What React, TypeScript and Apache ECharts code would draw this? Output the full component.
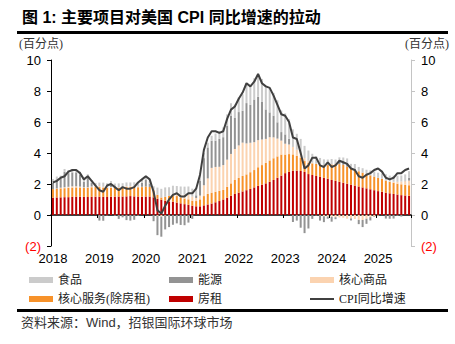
import React, { useEffect, useRef } from "react";
import * as echarts from "echarts";

const years = ["2018", "2019", "2020", "2021", "2022", "2023", "2024", "2025"];
const months: string[] = [];
years.forEach((y) => {
  for (let m = 1; m <= 12; m++) {
    if (y === "2025" && m > 9) break;
    months.push(`${y}-${m < 10 ? "0" + m : m}`);
  }
});

// 房租
const rent = [
  1.12, 1.13, 1.14, 1.15, 1.15, 1.17, 1.18, 1.18, 1.17, 1.16, 1.17, 1.18,
  1.18, 1.17, 1.16, 1.18, 1.18, 1.19, 1.19, 1.2, 1.22, 1.2, 1.19, 1.18,
  1.19, 1.19, 1.14, 1.05, 0.98, 0.92, 0.88, 0.86, 0.8, 0.75, 0.7, 0.66,
  0.6, 0.56, 0.56, 0.62, 0.68, 0.74, 0.82, 0.9, 1.0, 1.12, 1.24, 1.36,
  1.44, 1.52, 1.6, 1.68, 1.78, 1.88, 1.96, 2.04, 2.14, 2.26, 2.4, 2.54,
  2.7, 2.78, 2.86, 2.86, 2.84, 2.78, 2.64, 2.58, 2.52, 2.46, 2.4, 2.34,
  2.26, 2.2, 2.14, 2.08, 2.02, 1.96, 1.9, 1.84, 1.78, 1.72, 1.66, 1.6,
  1.54, 1.5, 1.44, 1.4, 1.36, 1.32, 1.28, 1.26, 1.24,
];
// 核心服务(除房租)
const coreServices = [
  0.55, 0.56, 0.58, 0.58, 0.6, 0.6, 0.6, 0.6, 0.58, 0.6, 0.62, 0.62,
  0.62, 0.6, 0.58, 0.58, 0.56, 0.55, 0.58, 0.6, 0.58, 0.58, 0.6, 0.62,
  0.64, 0.62, 0.45, 0.25, 0.15, 0.25, 0.35, 0.4, 0.42, 0.38, 0.36, 0.35,
  0.32, 0.34, 0.45, 0.6, 0.68, 0.7, 0.68, 0.66, 0.62, 0.7, 0.8, 0.9,
  0.95, 1.0, 1.02, 1.08, 1.12, 1.2, 1.26, 1.32, 1.38, 1.4, 1.38, 1.36,
  1.2, 1.15, 1.05, 0.95, 0.85, 0.7, 0.72, 0.75, 0.78, 0.78, 0.8, 0.88,
  1.0, 1.08, 1.14, 1.16, 1.1, 1.05, 1.02, 0.98, 0.95, 0.92, 0.9, 0.88,
  0.86, 0.84, 0.78, 0.74, 0.72, 0.7, 0.7, 0.68, 0.68,
];
// 核心商品
const coreGoods = [
  0.0, 0.02, 0.04, 0.06, 0.07, 0.08, 0.07, 0.05, 0.03, 0.03, 0.05, 0.06,
  0.06, 0.05, 0.03, 0.05, 0.04, 0.03, 0.04, 0.06, 0.06, 0.05, 0.04, 0.02,
  0.0, 0.0, 0.01, -0.06, -0.1, -0.05, 0.0, 0.08, 0.12, 0.18, 0.26, 0.3,
  0.26, 0.2, 0.24, 0.7, 1.0, 1.6, 1.6, 1.55, 1.6, 1.75, 1.9, 2.0,
  2.1, 2.15, 2.0, 1.9, 1.8, 1.75, 1.65, 1.55, 1.5, 1.35, 1.15, 0.9,
  0.7, 0.62, 0.48, 0.4, 0.32, 0.2, 0.14, 0.04, 0.0, -0.04, -0.08, -0.1,
  -0.12, -0.14, -0.16, -0.18, -0.24, -0.22, -0.26, -0.32, -0.32, -0.24, -0.14, -0.1,
  -0.04, 0.0, -0.02, 0.02, 0.06, 0.12, 0.18, 0.24, 0.3,
];
// 能源
const energy = [
  0.41, 0.58, 0.6, 0.99, 0.88, 0.9, 0.9, 0.77, 0.36, 0.67, 0.23, 0.0,
  -0.36, -0.37, -0.03, 0.13, -0.05, -0.25, -0.15, -0.33, -0.36, -0.31, -0.05, 0.26,
  0.46, 0.21, -0.4, -1.24, -1.3, -0.88, -0.78, -0.63, -0.54, -0.64, -0.66, -0.49,
  -0.25, 0.17, 0.95, 1.75, 2.0, 1.75, 1.7, 1.8, 1.8, 2.2, 2.45, 2.0,
  2.15, 2.05, 2.6, 2.45, 2.75, 2.8, 2.45, 1.9, 1.6, 1.4, 1.05, 0.55,
  0.6, 0.36, -0.45, -0.36, -0.82, -1.17, -0.87, -0.25, -0.04, -0.32, -0.38, -0.14,
  -0.31, -0.13, 0.14, 0.17, 0.25, -0.13, 0.07, -0.27, -0.46, -0.33, -0.21, -0.03,
  -0.03, -0.01, -0.21, -0.24, -0.23, -0.05, -0.1, 0.01, 0.18,
];
// 食品
const food = [
  0.24, 0.19, 0.18, 0.19, 0.2, 0.19, 0.19, 0.19, 0.19, 0.17, 0.19, 0.21,
  0.23, 0.27, 0.28, 0.25, 0.25, 0.27, 0.24, 0.24, 0.24, 0.28, 0.28, 0.24,
  0.24, 0.24, 0.26, 0.47, 0.56, 0.61, 0.56, 0.55, 0.53, 0.53, 0.51, 0.53,
  0.52, 0.49, 0.48, 0.33, 0.3, 0.32, 0.46, 0.5, 0.63, 0.72, 0.82, 0.86,
  0.95, 1.07, 1.2, 1.26, 1.37, 1.4, 1.46, 1.53, 1.51, 1.47, 1.42, 1.4,
  1.36, 1.27, 1.14, 1.03, 0.9, 0.78, 0.66, 0.58, 0.5, 0.44, 0.39, 0.36,
  0.35, 0.3, 0.3, 0.3, 0.28, 0.29, 0.3, 0.28, 0.29, 0.28, 0.32, 0.33,
  0.33, 0.34, 0.41, 0.38, 0.4, 0.4, 0.39, 0.43, 0.43,
];
// CPI同比增速
const cpi = [
  2.1, 2.2, 2.4, 2.5, 2.8, 2.9, 2.9, 2.7, 2.3, 2.5, 2.2, 1.9,
  1.6, 1.5, 1.9, 2.0, 1.8, 1.6, 1.8, 1.7, 1.7, 1.8, 2.1, 2.3,
  2.5, 2.3, 1.5, 0.3, 0.1, 0.6, 1.0, 1.3, 1.4, 1.2, 1.2, 1.4,
  1.4, 1.7, 2.6, 4.2, 5.0, 5.4, 5.4, 5.3, 5.4, 6.2, 6.8, 7.0,
  7.5, 7.9, 8.5, 8.3, 8.6, 9.1, 8.5, 8.3, 8.2, 7.7, 7.1, 6.5,
  6.4, 6.0, 5.0, 4.9, 4.0, 3.0, 3.2, 3.7, 3.7, 3.2, 3.1, 3.4,
  3.1, 3.2, 3.5, 3.4, 3.3, 3.0, 2.9, 2.5, 2.4, 2.6, 2.7, 2.9,
  3.0, 2.8, 2.4, 2.3, 2.4, 2.7, 2.7, 2.9, 3.0,
];

const C_FOOD = "#cbcbcb";
const C_ENERGY = "#939393";
const C_GOODS = "#fbd3b0";
const C_SERV = "#f7922a";
const C_RENT = "#c00000";
const C_LINE = "#404040";

const SANS = "'Liberation Sans', Arial, 'Noto Sans CJK SC', sans-serif";
const SERIF = "'Liberation Serif', 'Noto Sans CJK SC', serif";

export default function App() {
  const ref = useRef<HTMLDivElement>(null);
  useEffect(() => {
    if (!ref.current) return;
    const chart = echarts.init(ref.current, undefined, { renderer: "svg" });
    const yLabel = {
      fontSize: 13,
      fontFamily: SANS,
      color: (v: any) => (Number(v) < 0 ? "#ff0000" : "#000000"),
      formatter: (v: number) => (v < 0 ? `(${-v})` : `${v}`),
    };
    const barBase = (name: string, data: number[], color: string) => ({
      name,
      type: "bar",
      stack: "total",
      data,
      barWidth: "52%",
      itemStyle: { color },
      xAxisIndex: 0,
      yAxisIndex: 0,
    });
    const legendCommon = {
      orient: "vertical",
      padding: 0,
      itemWidth: 24,
      itemHeight: 6,
      itemGap: 5,
      textStyle: { fontSize: 12, lineHeight: 14, fontFamily: SERIF, color: "#222" },
    };
    chart.setOption({
      animation: false,
      grid: { left: 51, right: 44, top: 60, bottom: 98 },
      xAxis: [
        {
          type: "category",
          data: months,
          position: "bottom",
          axisLine: { show: false, onZero: false },
          axisTick: { show: false },
          axisLabel: {
            interval: (i: number) => i % 12 === 0,
            formatter: (v: string) => v.slice(0, 4),
            fontSize: 13,
            fontFamily: SANS,
            color: "#000",
            margin: 6,
          },
        },
        {
          type: "category",
          data: months,
          position: "bottom",
          axisLine: { show: true, onZero: true, lineStyle: { color: "#000", width: 1.5 } },
          axisTick: {
            show: true,
            interval: (i: number) => i % 12 === 0,
            length: 3,
            lineStyle: { color: "#000" },
          },
          axisLabel: { show: false },
        },
      ],
      yAxis: [
        {
          type: "value",
          min: -2,
          max: 10,
          interval: 2,
          position: "left",
          axisLine: { show: true, onZero: false, lineStyle: { color: "#000", width: 1 } },
          axisTick: { show: true, length: 4, lineStyle: { color: "#000" } },
          splitLine: { show: false },
          axisLabel: { ...yLabel, margin: 10 },
        },
        {
          type: "value",
          min: -2,
          max: 10,
          interval: 2,
          position: "right",
          axisLine: { show: true, onZero: false, lineStyle: { color: "#c4c4c4", width: 1 } },
          axisTick: { show: true, length: 4, lineStyle: { color: "#c4c4c4" } },
          splitLine: { show: false },
          axisLabel: { ...yLabel, margin: 10 },
        },
      ],
      legend: [
        { ...legendCommon, left: 29, top: 273, data: [{ name: "食品", icon: "rect" }, { name: "核心服务(除房租)", icon: "rect" }] },
        { ...legendCommon, left: 169, top: 273, data: [{ name: "能源", icon: "rect" }, { name: "房租", icon: "rect" }] },
        { ...legendCommon, left: 310, top: 273, data: [{ name: "核心商品", icon: "rect" }] },
        { ...legendCommon, itemHeight: 2, left: 310, top: 292, data: [{ name: "CPI同比增速", icon: "rect" }] },
      ],
      series: [
        barBase("房租", rent, C_RENT),
        barBase("核心服务(除房租)", coreServices, C_SERV),
        barBase("核心商品", coreGoods, C_GOODS),
        barBase("能源", energy, C_ENERGY),
        barBase("食品", food, C_FOOD),
        {
          name: "CPI同比增速",
          type: "line",
          data: cpi,
          symbol: "none",
          xAxisIndex: 0,
          yAxisIndex: 0,
          lineStyle: { color: C_LINE, width: 2 },
          itemStyle: { color: C_LINE },
          z: 5,
        },
      ],
      graphic: [
        {
          type: "text",
          left: 22,
          top: 9,
          style: {
            text: "图 1: 主要项目对美国 CPI 同比增速的拉动",
            fontSize: 16,
            fontWeight: "bold",
            fontFamily: SANS,
            fill: "#000",
          },
        },
        { type: "rect", shape: { x: 17, y: 31, width: 431, height: 3 }, style: { fill: "#000" } },
        {
          type: "text",
          left: 19,
          top: 38,
          style: { text: "(百分点)", fontSize: 12, fontFamily: SERIF, fill: "#333" },
        },
        {
          type: "text",
          right: 6,
          top: 38,
          style: { text: "(百分点)", fontSize: 12, fontFamily: SERIF, fill: "#333" },
        },
        { type: "rect", shape: { x: 17, y: 309, width: 431, height: 3 }, style: { fill: "#000" } },
        {
          type: "text",
          left: 21,
          top: 316,
          style: { text: "资料来源：Wind，招银国际环球市场", fontSize: 13, fontFamily: SANS, fill: "#333" },
        },
      ],
    });
    return () => chart.dispose();
  }, []);
  return (
    <div
      ref={ref}
      style={{ position: "absolute", left: 0, top: 0, width: 455, height: 344, background: "#fff" }}
    />
  );
}
